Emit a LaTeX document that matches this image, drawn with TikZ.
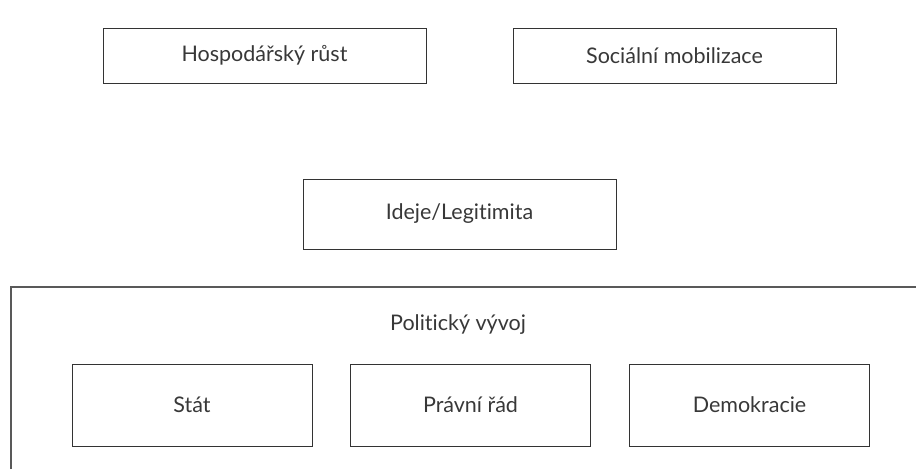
\documentclass[tikz,border=0pt]{standalone}
\usepackage{fontspec}
\setmainfont{Lato}[Ligatures={NoCommon}]
\begin{document}
\begin{tikzpicture}[x=1pt,y=-1pt,
  box/.style={draw=black!80, line width=1pt, inner sep=0pt, font=\fontsize{21.5}{25}\selectfont, text=black!78},
  lbl/.style={inner sep=0pt, font=\fontsize{21.5}{25}\selectfont, text=black!78}]
\useasboundingbox (0,0) rectangle (916,469);
\node[box, minimum width=323pt, minimum height=55pt] (hosp) at (264.5,55.5) {Hospodářský růst};
\node[box, minimum width=323pt, minimum height=55pt] (soc) at (674.5,55.5) {Sociální mobilizace};
\node[box, minimum width=313pt, minimum height=70pt] (idej) at (459.5,214) {Ideje/Legitimita};
\coordinate (pbl) at (11,469);
\coordinate (ptl) at (11,287);
\coordinate (ptr) at (916,287);
\draw[draw=black!65, line width=1.5pt] (pbl) -- (ptl) -- (ptr);
\node[lbl] (pol) at (458,325) {Politický vývoj};
\node[box, minimum width=240pt, minimum height=82pt] (stat) at (192,405) {Stát};
\node[box, minimum width=240pt, minimum height=82pt] (prav) at (470.5,405) {Právní řád};
\node[box, minimum width=240pt, minimum height=82pt] (demo) at (749.5,405) {Demokracie};
\end{tikzpicture}
\end{document}
